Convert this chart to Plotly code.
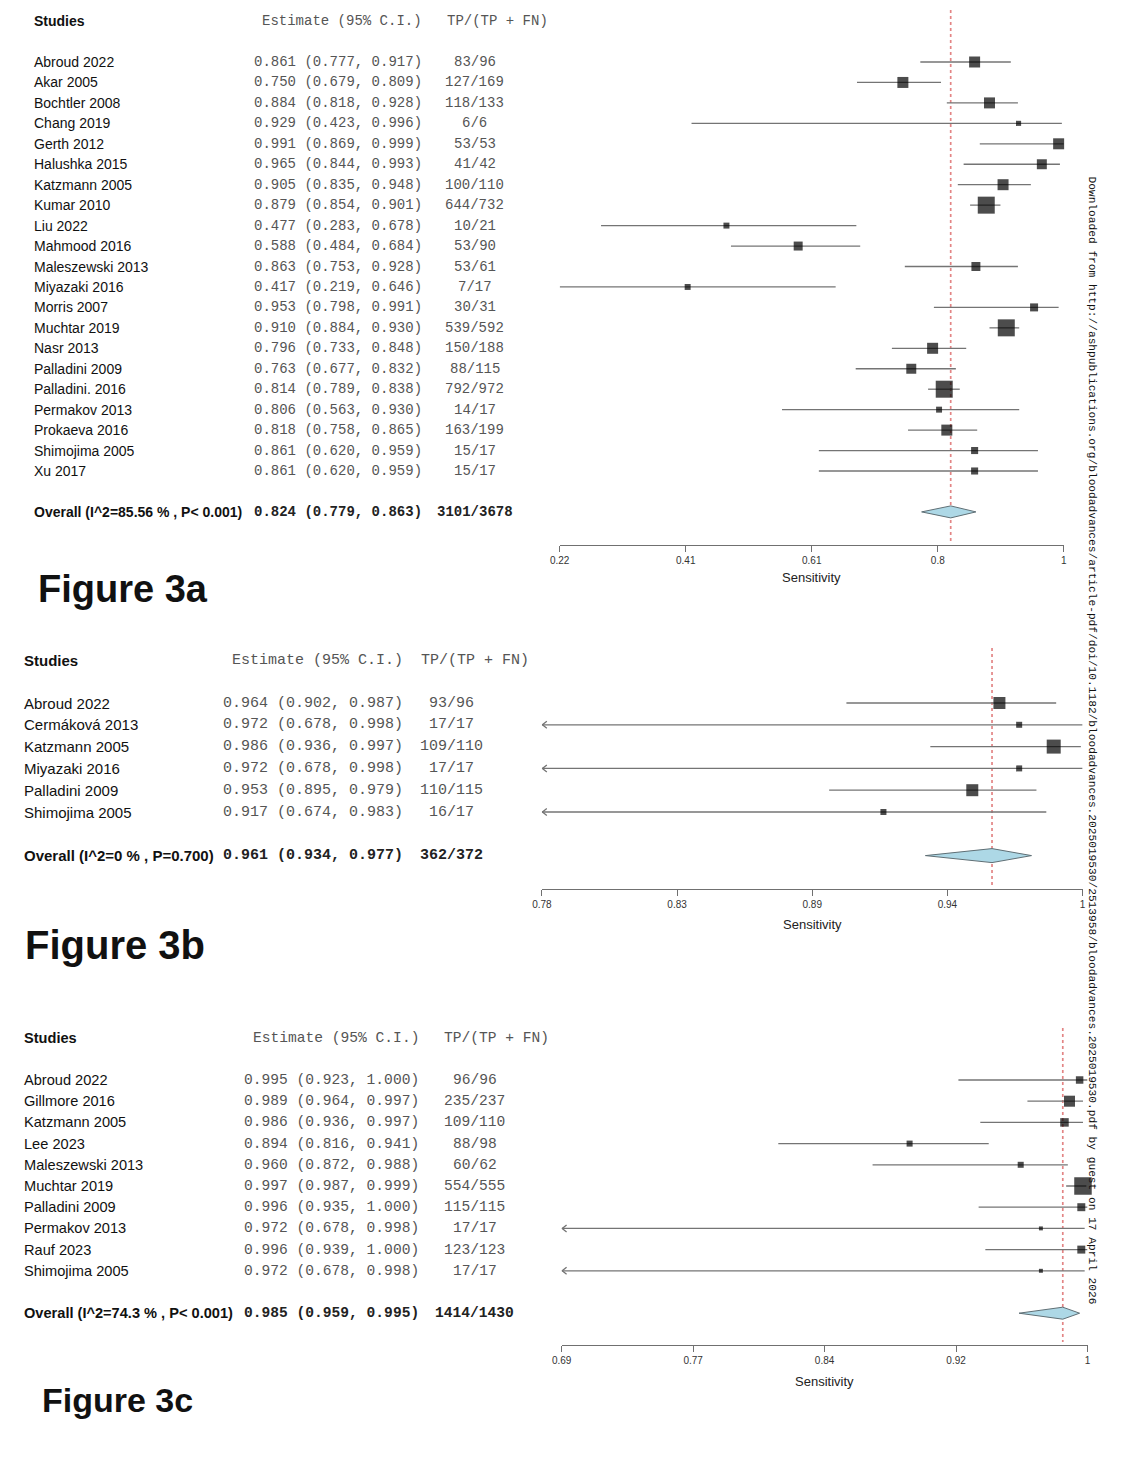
import numpy as np
import plotly.graph_objects as go

W, H = 1128, 1460
OFF = 8  # page margin of the browser: shift so reference pixels line up
SANS = "Liberation Sans, Arial, sans-serif"
MONO = "Liberation Mono, Courier New, monospace"

# ---------------- Figure 3a data ----------------
studies_a = ["Abroud 2022", "Akar 2005", "Bochtler 2008", "Chang 2019", "Gerth 2012",
             "Halushka 2015", "Katzmann 2005", "Kumar 2010", "Liu 2022", "Mahmood 2016",
             "Maleszewski 2013", "Miyazaki 2016", "Morris 2007", "Muchtar 2019", "Nasr 2013",
             "Palladini 2009", "Palladini. 2016", "Permakov 2013", "Prokaeva 2016",
             "Shimojima 2005", "Xu 2017"]
est_a = [0.861, 0.750, 0.884, 0.929, 0.991, 0.965, 0.905, 0.879, 0.477, 0.588, 0.863,
         0.417, 0.953, 0.910, 0.796, 0.763, 0.814, 0.806, 0.818, 0.861, 0.861]
lo_a = [0.777, 0.679, 0.818, 0.423, 0.869, 0.844, 0.835, 0.854, 0.283, 0.484, 0.753,
        0.219, 0.798, 0.884, 0.733, 0.677, 0.789, 0.563, 0.758, 0.620, 0.620]
hi_a = [0.917, 0.809, 0.928, 0.996, 0.999, 0.993, 0.948, 0.901, 0.678, 0.684, 0.928,
        0.646, 0.991, 0.930, 0.848, 0.832, 0.838, 0.930, 0.865, 0.959, 0.959]
tp_a = ["83/96", "127/169", "118/133", "6/6", "53/53", "41/42", "100/110", "644/732",
        "10/21", "53/90", "53/61", "7/17", "30/31", "539/592", "150/188", "88/115",
        "792/972", "14/17", "163/199", "15/17", "15/17"]
weight_a = [5.1, 5.1, 5.1, 1.1, 5.1, 4.2, 5.1, 12.2, 1.5, 3.4, 3.4, 1.5, 2.7, 12.2,
            5.1, 4.2, 12.2, 1.5, 5.1, 2.1, 2.1]
overall_label_a = "Overall (I^2=85.56 % , P< 0.001)"
overall_a = [0.824, 0.779, 0.863]
overall_tp_a = "3101/3678"
xlim_a = [0.219, 0.999]
ticks_a = ["0.22", "0.41", "0.61", "0.8", "1"]

# ---------------- Figure 3b data ----------------
studies_b = ["Abroud 2022", "Cermáková 2013", "Katzmann 2005", "Miyazaki 2016",
             "Palladini 2009", "Shimojima 2005"]
est_b = [0.964, 0.972, 0.986, 0.972, 0.953, 0.917]
lo_b = [0.902, 0.678, 0.936, 0.678, 0.895, 0.674]
hi_b = [0.987, 0.998, 0.997, 0.998, 0.979, 0.983]
tp_b = ["93/96", "17/17", "109/110", "17/17", "110/115", "16/17"]
weight_b = [24.3, 6.1, 33.1, 6.1, 24.3, 6.1]
overall_label_b = "Overall (I^2=0 % , P=0.700)"
overall_b = [0.961, 0.934, 0.977]
overall_tp_b = "362/372"
xlim_b = [0.7786, 0.9977]
ticks_b = ["0.78", "0.83", "0.89", "0.94", "1"]

# ---------------- Figure 3c data ----------------
studies_c = ["Abroud 2022", "Gillmore 2016", "Katzmann 2005", "Lee 2023",
             "Maleszewski 2013", "Muchtar 2019", "Palladini 2009", "Permakov 2013",
             "Rauf 2023", "Shimojima 2005"]
est_c = [0.995, 0.989, 0.986, 0.894, 0.960, 0.997, 0.996, 0.972, 0.996, 0.972]
lo_c = [0.923, 0.964, 0.936, 0.816, 0.872, 0.987, 0.935, 0.678, 0.939, 0.678]
hi_c = [1.000, 0.997, 0.997, 0.941, 0.988, 0.999, 1.000, 0.998, 1.000, 0.998]
tp_c = ["96/96", "235/237", "109/110", "88/98", "60/62", "554/555", "115/115",
        "17/17", "123/123", "17/17"]
weight_c = [7.1, 15.4, 9.2, 4.6, 4.6, 38.9, 8.1, 2.0, 8.1, 2.0]
overall_label_c = "Overall (I^2=74.3 % , P< 0.001)"
overall_c = [0.985, 0.959, 0.995]
overall_tp_c = "1414/1430"
xlim_c = [0.6873, 0.9997]
ticks_c = ["0.69", "0.77", "0.84", "0.92", "1"]

watermark = ("Downloaded from http://ashpublications.org/bloodadvances/article-pdf/doi/"
             "10.1182/bloodadvances.2025019530/2513958/bloodadvances.2025019530.pdf "
             "by guest on 17 April 2026")

panels = [
    dict(studies=studies_a, est=est_a, lo=lo_a, hi=hi_a, tp=tp_a, w=weight_a,
         ov_label=overall_label_a, ov=overall_a, ov_tp=overall_tp_a, xlim=xlim_a,
         ticks=ticks_a, title="Figure 3a",
         row0=62, step=20.45, head=21, top=10, axis_y=545, ax_x0=556, ax_x1=1066,
         x_name=23, x_est_r=418, x_tp=470, x_tp_head=441, fs=14, smax=17, dh=6,
         fig_x=27, fig_y=589, fig_fs=38, lab_y=577),
    dict(studies=studies_b, est=est_b, lo=lo_b, hi=hi_b, tp=tp_b, w=weight_b,
         ov_label=overall_label_b, ov=overall_b, ov_tp=overall_tp_b, xlim=xlim_b,
         ticks=ticks_b, title="Figure 3b",
         row0=703, step=21.8, head=660, top=648, axis_y=889, ax_x0=538, ax_x1=1085,
         x_name=13, x_est_r=399, x_tp=447, x_tp_head=415, fs=15, smax=14, dh=7,
         fig_x=14, fig_y=945, fig_fs=40, lab_y=924),
    dict(studies=studies_c, est=est_c, lo=lo_c, hi=hi_c, tp=tp_c, w=weight_c,
         ov_label=overall_label_c, ov=overall_c, ov_tp=overall_tp_c, xlim=xlim_c,
         ticks=ticks_c, title="Figure 3c",
         row0=1080, step=21.2, head=1038, top=1028, axis_y=1345, ax_x0=558, ax_x1=1090,
         x_name=13, x_est_r=415, x_tp=470, x_tp_head=438, fs=14.6, smax=17.5, dh=6,
         fig_x=31, fig_y=1400, fig_fs=34, lab_y=1381),
]

fig = go.Figure()
annotations = []
shapes = []
layout_axes = {}


def pxx(px):
    return (px - OFF) / W


def pxy(py):
    return 1 - (py - OFF) / H


def ann(x, y, text, yref, xanchor, font):
    return dict(x=x, y=y, xref="paper", yref=yref, text=text, xanchor=xanchor,
                yanchor="middle", showarrow=False, font=font, borderpad=0)


for k, P in enumerate(panels):
    sfx = "" if k == 0 else str(k + 1)
    xa, ya = "x" + sfx, "y" + sfx
    n = len(P["studies"])
    rows = np.arange(n)
    ov_row = n + 1
    step, row0 = P["step"], P["row0"]

    def row_of(py, row0=row0, step=step):
        return (py - row0) / step

    xmin, xmax = P["xlim"]
    upp = (xmax - xmin) / (P["ax_x1"] - P["ax_x0"])
    est = np.array(P["est"])
    lo = np.array(P["lo"])
    hi = np.array(P["hi"])

    # red dashed pooled line
    shapes.append(dict(type="line", xref=xa, yref=ya, x0=P["ov"][0], x1=P["ov"][0],
                       y0=row_of(P["top"]), y1=row_of(P["axis_y"] - 3),
                       line=dict(color="#e38585", width=1.7, dash="dot"), layer="below"))

    # CI lines
    lx, ly = [], []
    for i in range(n):
        lx += [max(lo[i], xmin), min(hi[i], xmax), None]
        ly += [i, i, None]
    fig.add_trace(go.Scatter(x=lx, y=ly, mode="lines", line=dict(color="#747474", width=1.3),
                             xaxis=xa, yaxis=ya, hoverinfo="skip", showlegend=False))
    # arrows for truncated lower limits
    axs, ays = [], []
    for i in range(n):
        if lo[i] < xmin:
            axs += [xmin + 5 * upp, xmin + 0.5 * upp, xmin + 5 * upp, None]
            ays += [i - 3.5 / step, i, i + 3.5 / step, None]
    if axs:
        fig.add_trace(go.Scatter(x=axs, y=ays, mode="lines", line=dict(color="#747474", width=1.3),
                                 xaxis=xa, yaxis=ya, hoverinfo="skip", showlegend=False))
    # squares
    w = np.array(P["w"], float)
    sizes = P["smax"] * np.sqrt(w / w.max())
    fig.add_trace(go.Scatter(x=est, y=rows, mode="markers", cliponaxis=False,
                             marker=dict(symbol="square", size=sizes, color="black",
                                         line=dict(width=0)),
                             xaxis=xa, yaxis=ya, hoverinfo="skip", showlegend=False))
    # diamond
    e, l, h = P["ov"]
    hh = P["dh"] / step
    fig.add_trace(go.Scatter(x=[l, e, h, e, l], y=[ov_row, ov_row - hh, ov_row, ov_row + hh, ov_row],
                             mode="lines", fill="toself", fillcolor="#add8e6",
                             line=dict(color="#5f6f75", width=1),
                             xaxis=xa, yaxis=ya, hoverinfo="skip", showlegend=False))

    # axes
    layout_axes["xaxis" + sfx] = dict(
        domain=[pxx(P["ax_x0"]), pxx(P["ax_x1"])], range=[xmin, xmax], anchor=ya,
        showgrid=False, zeroline=False, showline=True, linecolor="#707070", linewidth=1.2,
        ticks="outside", ticklen=6, tickcolor="#707070", tickwidth=1.2,
        tickvals=list(np.linspace(xmin, xmax, len(P["ticks"]))), ticktext=P["ticks"],
        tickfont=dict(family=SANS, size=10, color="#333333"), fixedrange=True)
    layout_axes["yaxis" + sfx] = dict(
        domain=[pxy(P["axis_y"]), pxy(P["top"])], range=[row_of(P["axis_y"]), row_of(P["top"])],
        anchor=xa, visible=False, showgrid=False, zeroline=False, fixedrange=True)

    fs = P["fs"]
    f_sans = dict(family=SANS, size=fs, color="#111111")
    f_mono = dict(family=MONO, size=fs, color="#555555")
    f_monob = dict(family=MONO, size=fs, color="#222222")
    # headers
    hr = row_of(P["head"])
    annotations.append(ann(pxx(P["x_name"]), hr, "<b>Studies</b>", ya, "left", f_sans))
    annotations.append(ann(pxx(P["x_est_r"]), hr, "Estimate (95% C.I.)", ya, "right", f_mono))
    annotations.append(ann(pxx(P["x_tp_head"]), hr, "TP/(TP + FN)", ya, "left", f_mono))
    # study rows
    for i in range(n):
        annotations.append(ann(pxx(P["x_name"]), i, P["studies"][i], ya, "left", f_sans))
        annotations.append(ann(pxx(P["x_est_r"]), i, f"{est[i]:.3f} ({lo[i]:.3f}, {hi[i]:.3f})",
                               ya, "right", f_mono))
        annotations.append(ann(pxx(P["x_tp"]), i, P["tp"][i], ya, "center", f_mono))
    # overall row
    annotations.append(ann(pxx(P["x_name"]), ov_row, "<b>" + P["ov_label"] + "</b>", ya, "left", f_sans))
    annotations.append(ann(pxx(P["x_est_r"]), ov_row, f"<b>{e:.3f} ({l:.3f}, {h:.3f})</b>",
                           ya, "right", f_monob))
    annotations.append(ann(pxx(P["x_tp"]), ov_row, "<b>" + P["ov_tp"] + "</b>", ya, "center", f_monob))
    # axis title
    annotations.append(ann(pxx((P["ax_x0"] + P["ax_x1"]) / 2), pxy(P["lab_y"]), "Sensitivity",
                           "paper", "center", dict(family=SANS, size=13, color="#222222")))
    # figure label
    annotations.append(ann(pxx(P["fig_x"]), pxy(P["fig_y"]), "<b>" + P["title"] + "</b>",
                           "paper", "left", dict(family=SANS, size=P["fig_fs"], color="#111111")))

# vertical watermark
annotations.append(dict(x=pxx(1095), y=pxy(741), xref="paper", yref="paper", text=watermark,
                        textangle=90, xanchor="center", yanchor="middle", showarrow=False,
                        font=dict(family=MONO, size=11.2, color="#111111")))

fig.update_layout(width=W, height=H, margin=dict(l=0, r=0, t=0, b=0),
                  paper_bgcolor="white", plot_bgcolor="white", showlegend=False,
                  annotations=annotations, shapes=shapes, **layout_axes)

fig.write_html("out.html")
